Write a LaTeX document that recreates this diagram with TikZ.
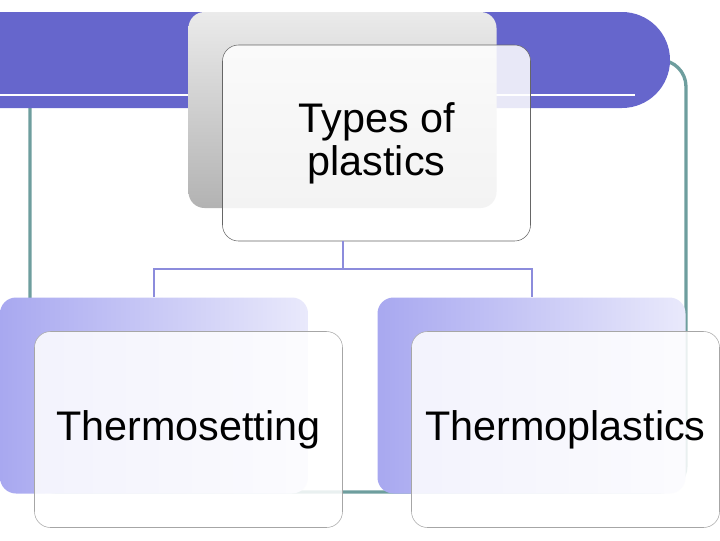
\documentclass[tikz,border=0pt]{standalone}
\usepackage{fontspec}
\setmainfont{Liberation Sans}
\usetikzlibrary{positioning}
\definecolor{barblue}{HTML}{6666CC}
\definecolor{frameteal}{HTML}{6E9E9E}
\definecolor{linkblue}{HTML}{8C8CDC}
\definecolor{lav}{HTML}{A8A8F0}
\begin{document}
\begin{tikzpicture}[
    x=0.75pt,y=-0.75pt,
    back/.style={rounded corners=12pt,minimum width=231pt,minimum height=147pt,inner sep=0pt},
    front/.style={draw=black!60,rounded corners=12pt,fill=white,fill opacity=0.85,text opacity=1,
      minimum width=231pt,minimum height=147pt,inner sep=0pt,align=center,font=\fontsize{31}{32}\selectfont},
    link/.style={draw=linkblue,line width=1.5pt}
    ]
    \useasboundingbox (0,0) rectangle (720,540);

    % slide background
    \draw[frameteal,line width=2.5pt,rounded corners=20pt] (30,60) rectangle (686,492);
    \fill[barblue,rounded corners=36pt] (-60,12) rectangle (670,108);
    \draw[white,line width=1.5pt] (0,95) -- (635,95);
    \draw[white,line width=1pt] (206,12) -- (206,90);

    % back boxes
    \node(topback) at (342.5,110) [back,top color=black!8,bottom color=black!30] {};
    \node(lback) at (154,395.5) [back,left color=lav,right color=lav!25] {};
    \node(rback) at (531.5,395.5) [back,left color=lav,right color=lav!25] {};

    % front boxes
    \node(top) at (376.5,143) [front] {Types of\\plastics};
    \node(left) at (188.5,429.5) [front,draw=black!35] {Thermosetting};
    \node(right) at (565.5,429.5) [front,draw=black!35] {Thermoplastics};

    % connections
    \coordinate(split) at (343,269);
    \draw[link] (top.south -| split) -- (split);
    \draw[link] (lback.north) |- (split) -| (rback.north);

\end{tikzpicture}
\end{document}
